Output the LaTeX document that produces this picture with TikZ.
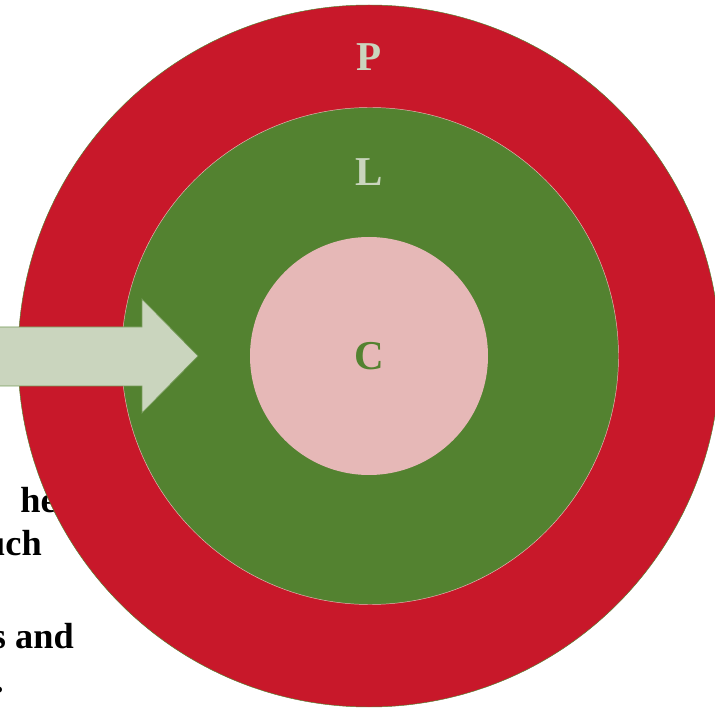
\documentclass[tikz,border=0pt]{standalone}
\usepackage{fontspec}
\setmainfont{Liberation Serif}
\definecolor{capared}{HTML}{C8182A}
\definecolor{capagreen}{HTML}{538230}
\definecolor{capapink}{HTML}{E6B8B7}
\definecolor{capasage}{HTML}{CAD5BE}
\begin{document}
\begin{tikzpicture}[x=0.03cm,y=-0.03cm,
  ring/.style={circle,inner sep=0pt},
  lab/.style={font=\fontsize{35}{40}\selectfont\bfseries},
  txt/.style={anchor=base east,inner sep=0pt,font=\fontsize{31}{36}\selectfont\bfseries}]
\useasboundingbox (0,0) rectangle (715,708);
% texto parcialmente oculto
\node[txt] (t1) at (57,513) {he};
\node[txt] (t2) at (42,556) {uch};
\node[txt] (t3) at (74,648) {s and};
\node[txt] (t4) at (4,692) {.};
% circulos
\node[ring,fill=capared,draw=capagreen,minimum size=702*0.03cm] (outer) at (369,356) {};
\node[ring,fill=capagreen,draw=capapink,minimum size=497*0.03cm] (mid) at (370,356) {};
\node[ring,fill=capapink,minimum size=238*0.03cm] (core) at (369,356) {};
\node[lab,text=capasage] (p) at (369,57) {P};
\node[lab,text=capasage] (l) at (369,172) {L};
\node[lab,text=capagreen] (c) at (core.center) {C};
% flecha
\draw[fill=capasage,draw=capagreen!80!white,line width=0.6pt]
  (-5,327)--(142,327)--(142,299)--(198,356)--(142,413)--(142,386)--(-5,386)--cycle;
\end{tikzpicture}
\end{document}
